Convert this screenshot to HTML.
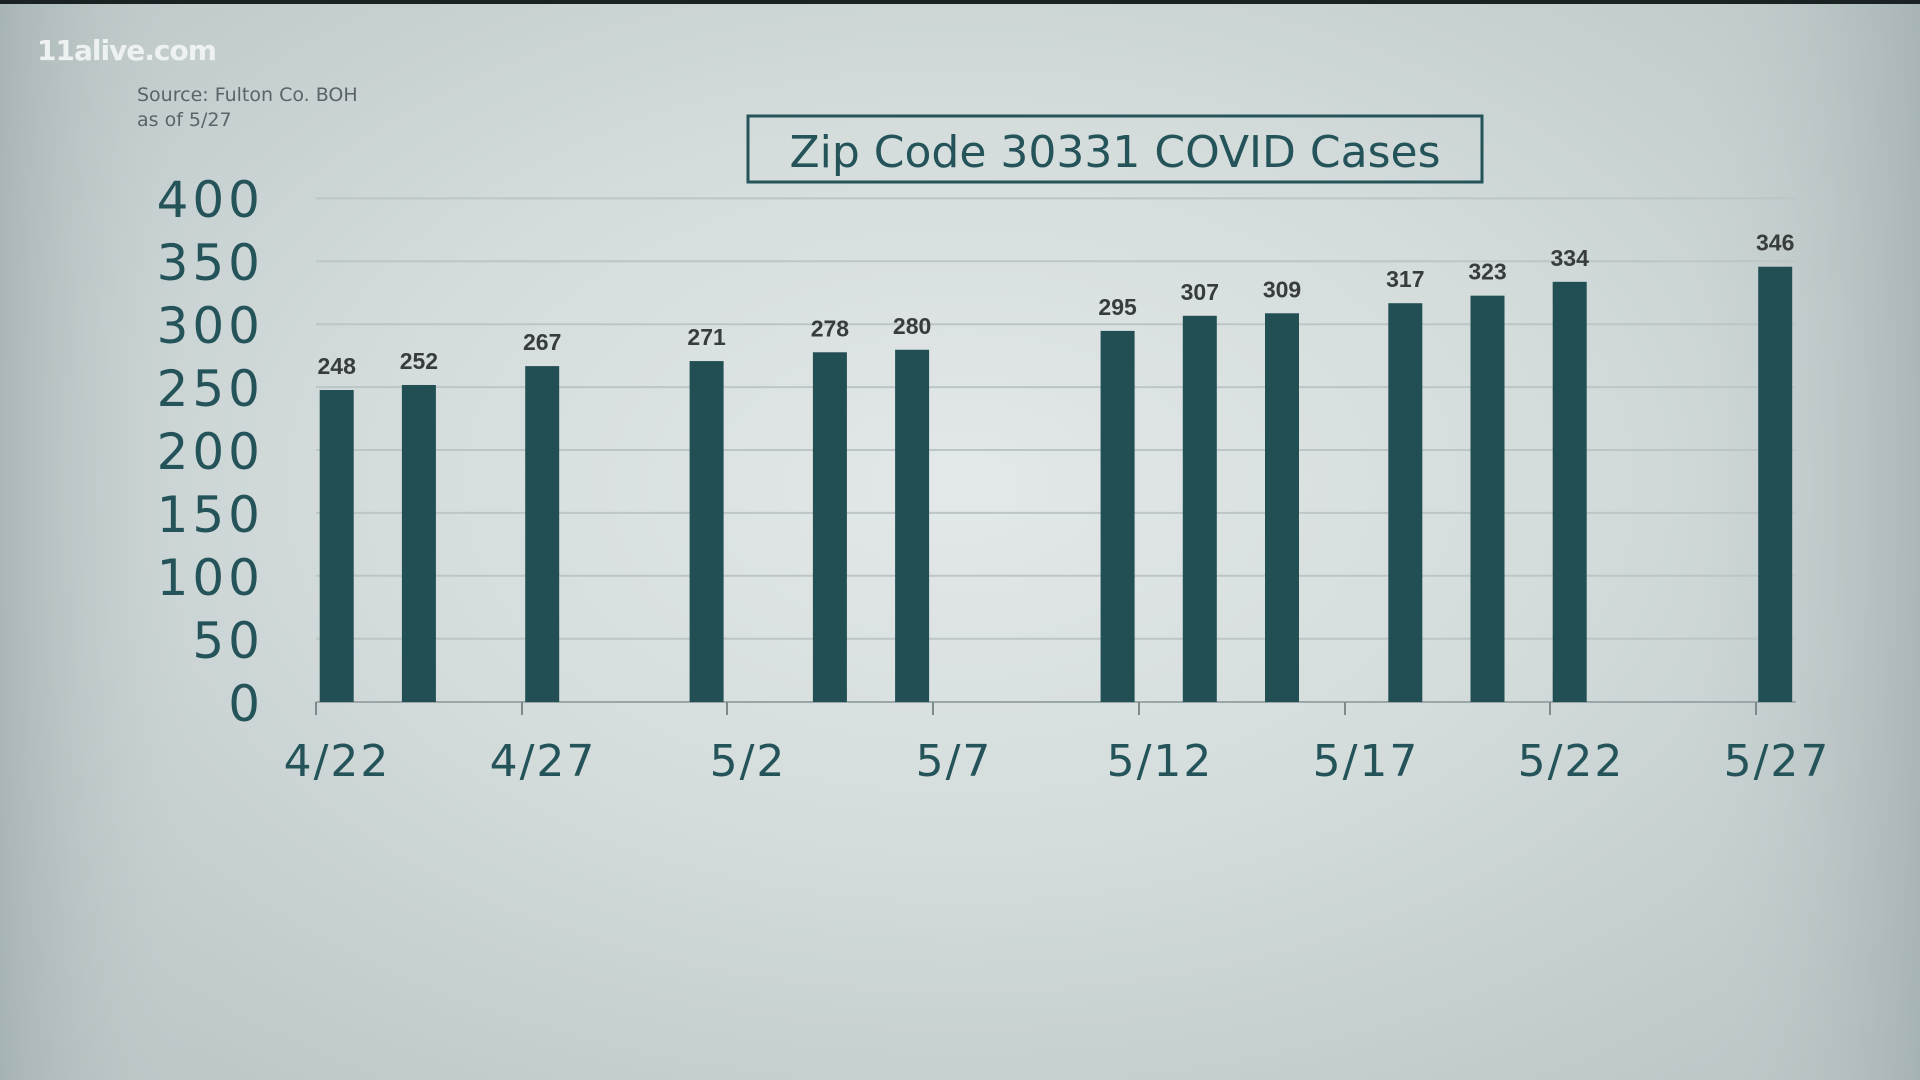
<!DOCTYPE html>
<html><head><meta charset="utf-8"><style>
html,body{margin:0;padding:0;width:1920px;height:1080px;overflow:hidden}
body{background:radial-gradient(ellipse at 50% 45%,#e3e8e8 0%,#d3dbdb 45%,#b8c3c4 100%);}
svg{position:absolute;left:0;top:0}
</style></head><body>
<svg width="1920" height="1080" viewBox="0 0 1920 1080" xmlns="http://www.w3.org/2000/svg">
<defs>
<linearGradient id="lft" x1="0" x2="1" y1="0" y2="0">
<stop offset="0" stop-color="#9eabad" stop-opacity="0.7"/>
<stop offset="0.1" stop-color="#c7d0d1" stop-opacity="0"/>
<stop offset="0.88" stop-color="#c7d0d1" stop-opacity="0"/>
<stop offset="1" stop-color="#9eabad" stop-opacity="0.7"/>
</linearGradient>
</defs>
<rect width="1920" height="1080" fill="url(#lft)"/>
<rect width="1920" height="4" fill="#1a2224"/>
<text x="37" y="60" font-family="DejaVu Sans,sans-serif" font-weight="bold" font-size="28" fill="#eef1f1" letter-spacing="-1">11alive.com</text>
<text x="137" y="101" font-family="DejaVu Sans,sans-serif" font-size="19" fill="#5a6466">Source: Fulton Co. BOH</text>
<text x="137" y="126" font-family="DejaVu Sans,sans-serif" font-size="19" fill="#5a6466">as of 5/27</text>
<rect x="748" y="116" width="734" height="66" fill="none" stroke="#245459" stroke-width="3"/>
<text x="1115" y="167" text-anchor="middle" font-family="DejaVu Sans,sans-serif" font-size="44" fill="#245459">Zip Code 30331 COVID Cases</text>
<g stroke="#bcc6c6" stroke-width="2">
<line x1="316" x2="1796" y1="198.4" y2="198.4"/>
<line x1="316" x2="1796" y1="261.3" y2="261.3"/>
<line x1="316" x2="1796" y1="324.2" y2="324.2"/>
<line x1="316" x2="1796" y1="387.1" y2="387.1"/>
<line x1="316" x2="1796" y1="450" y2="450"/>
<line x1="316" x2="1796" y1="512.9" y2="512.9"/>
<line x1="316" x2="1796" y1="575.8" y2="575.8"/>
<line x1="316" x2="1796" y1="638.7" y2="638.7"/>
</g>
<line x1="316" x2="1796" y1="702" y2="702" stroke="#9aa6a7" stroke-width="2"/>
<g stroke="#7d898a" stroke-width="2">
<line x1="316" x2="316" y1="702" y2="715"/><line x1="522" x2="522" y1="702" y2="715"/>
<line x1="727" x2="727" y1="702" y2="715"/><line x1="933" x2="933" y1="702" y2="715"/>
<line x1="1139" x2="1139" y1="702" y2="715"/><line x1="1345" x2="1345" y1="702" y2="715"/>
<line x1="1550" x2="1550" y1="702" y2="715"/><line x1="1756" x2="1756" y1="702" y2="715"/>
</g>
<g font-family="DejaVu Sans,sans-serif" font-size="50" fill="#245459" text-anchor="end" letter-spacing="4">
<text x="264" y="217">400</text><text x="264" y="280">350</text><text x="264" y="343">300</text>
<text x="264" y="406">250</text><text x="264" y="469">200</text><text x="264" y="532">150</text>
<text x="264" y="595">100</text><text x="264" y="658">50</text><text x="264" y="721">0</text>
</g>
<g font-family="DejaVu Sans,sans-serif" font-size="44" fill="#245459" text-anchor="middle" letter-spacing="2">
<text x="337" y="776">4/22</text><text x="543" y="776">4/27</text><text x="748" y="776">5/2</text>
<text x="954" y="776">5/7</text><text x="1160" y="776">5/12</text><text x="1366" y="776">5/17</text>
<text x="1571" y="776">5/22</text><text x="1777" y="776">5/27</text>
</g>
<g fill="#224f54" id="bars"></g>
<g font-family="Liberation Sans,sans-serif" font-weight="bold" font-size="23" fill="#383c3d" text-anchor="middle" id="lbls"></g>
<script>
var d=[[0,248],[2,252],[5,267],[9,271],[12,278],[14,280],[19,295],[21,307],[23,309],[26,317],[28,323],[30,334],[35,346]];
var b=document.getElementById('bars'),l=document.getElementById('lbls'),ns='http://www.w3.org/2000/svg';
d.forEach(function(p){var cx=336.7+p[0]*41.1,y=702-p[1]*1.258;
var r=document.createElementNS(ns,'rect');r.setAttribute('x',cx-17);r.setAttribute('y',y);r.setAttribute('width',34);r.setAttribute('height',702-y);b.appendChild(r);
var t=document.createElementNS(ns,'text');t.setAttribute('x',cx);t.setAttribute('y',y-16);t.textContent=p[1];l.appendChild(t);});
</script>
</svg>
</body></html>
